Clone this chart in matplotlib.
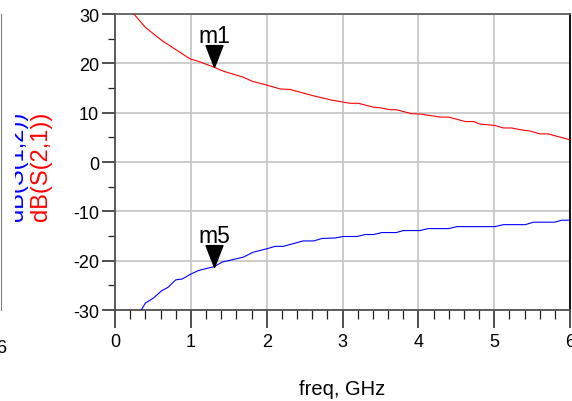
import numpy as np
import matplotlib
matplotlib.use("Agg")
import matplotlib.pyplot as plt
from matplotlib.path import Path
from matplotlib.ticker import MultipleLocator
from matplotlib.transforms import Bbox

plt.rcParams['font.family'] = ['Liberation Sans', 'DejaVu Sans']
plt.rcParams['axes.unicode_minus'] = False

# ---- data ----
s21_freq = [0.255, 0.40, 0.62, 0.84, 0.99, 1.10, 1.31, 1.43, 1.69, 1.82, 2.00, 2.18,
            2.31, 2.62, 2.84, 3.10, 3.21, 3.41, 3.49, 3.63, 3.71, 3.91, 4.04, 4.29,
            4.40, 4.62, 4.73, 4.81, 5.01, 5.12, 5.23, 5.36, 5.47, 5.60, 5.71, 6.00]
s21_db = [29.9, 27.3, 24.6, 22.4, 20.9, 20.4, 19.2, 18.4, 17.2, 16.3, 15.6, 14.8,
          14.7, 13.4, 12.6, 11.9, 11.9, 11.1, 11.0, 10.6, 10.6, 9.8, 9.7, 9.1,
          9.1, 8.2, 8.2, 7.7, 7.4, 6.9, 6.9, 6.5, 6.3, 5.7, 5.7, 4.5]

s12_freq = [0.339, 0.40, 0.505, 0.615, 0.70, 0.80, 0.89, 0.99, 1.10, 1.31, 1.41, 1.69,
            1.82, 2.00, 2.11, 2.22, 2.48, 2.62, 2.73, 2.90, 3.01, 3.19, 3.30, 3.41,
            3.52, 3.71, 3.80, 4.02, 4.13, 4.40, 4.51, 5.01, 5.12, 5.41, 5.52, 5.80,
            5.89, 6.00]
s12_db = [-30.2, -28.6, -27.6, -26.1, -25.4, -23.9, -23.7, -22.8, -22.0, -21.2, -20.3, -19.3,
          -18.3, -17.6, -17.1, -17.1, -16.0, -16.0, -15.5, -15.4, -15.1, -15.1, -14.7, -14.7,
          -14.3, -14.3, -13.9, -13.9, -13.5, -13.5, -13.1, -13.1, -12.7, -12.7, -12.2, -12.2,
          -11.8, -11.8]

marker_names = ['m1', 'm5']
marker_freq = [1.31, 1.31]

x_ticks = [0, 1, 2, 3, 4, 5, 6]
y_ticks = [-30, -20, -10, 0, 10, 20, 30]

W, H = 572, 402
fig = plt.figure(figsize=(W / 100, H / 100), dpi=100)

# fragment of the neighbouring panel on the far left
ax0 = fig.add_axes([-400 / W, 91 / H, 401 / W, 296 / H])
ax0.set_xlim(0, 6)
ax0.set_ylim(-30, 30)
ax0.set_xticks([6])
ax0.set_xticklabels(['6'], fontsize=13)
ax0.set_yticks([])
for s in ['top', 'left', 'bottom']:
    ax0.spines[s].set_visible(False)
ax0.spines['right'].set_color('#808080')
ax0.tick_params(axis='x', length=0, pad=21)
ax0.patch.set_alpha(0)

ax = fig.add_axes([115 / W, 91 / H, 455 / W, 296 / H])
ax.plot(s21_freq, s21_db, color='#ff0000', lw=0.8, zorder=3)
ax.plot(s12_freq, s12_db, color='#0000ff', lw=0.8, zorder=3)

ax.set_xlim(0, 6)
ax.set_ylim(-30, 30)
ax.set_xticks(x_ticks)
ax.set_yticks(y_ticks)
ax.xaxis.set_minor_locator(MultipleLocator(0.2))
ax.yaxis.set_minor_locator(MultipleLocator(5))
ax.grid(True, which='major', color='#c8c8c8', lw=1.3, zorder=0)
ax.tick_params(axis='x', which='major', length=13, width=1.4, color='#505050',
               labelsize=13, pad=3.5, direction='out')
ax.tick_params(axis='x', which='minor', length=6.5, width=0.9, color='#202020', direction='out')
ax.tick_params(axis='y', which='major', length=9.5, width=1.4, color='#505050',
               labelsize=13, pad=2, direction='out')
ax.tick_params(axis='y', which='minor', length=5, width=0.9, color='#202020', direction='out')
ax.spines['left'].set_color('#505050')
ax.spines['bottom'].set_color('#505050')
ax.spines['top'].set_color('#606060')
ax.spines['right'].set_color('#000000')
for s in ax.spines.values():
    s.set_linewidth(1.3)

ax.set_xlabel('freq, GHz', fontsize=14.5, labelpad=21)

# markers
tri = Path([(-0.386, 1.0), (0.386, 1.0), (0.0, 0.0), (-0.386, 1.0)],
           [Path.MOVETO, Path.LINETO, Path.LINETO, Path.CLOSEPOLY])
curves = [(s21_freq, s21_db), (s12_freq, s12_db)]
for name, f, (cf, cv) in zip(marker_names, marker_freq, curves):
    v = float(np.interp(f, cf, cv))
    ax.plot([f], [v], marker=tri, markersize=31.5, color='black', ls='none', zorder=5)
    ax.annotate(name, (f, v), xytext=(0, 18), textcoords='offset points',
                ha='center', va='baseline', fontsize=16.5, zorder=6)

# rotated y labels
t_blue = fig.text(17 / W, 1 - 166 / H, 'dB(S(1,2))', color='#0000ff', rotation=90,
                  ha='center', va='center', fontsize=17)
t_red = fig.text(41 / W, 1 - 166 / H, 'dB(S(2,1))', color='#ff0000', rotation=90,
                 ha='center', va='center', fontsize=17)
t_blue.set_clip_box(Bbox.from_extents(15, 0, W, H))
t_blue.set_clip_on(True)

fig.savefig('out.png', dpi=100)
